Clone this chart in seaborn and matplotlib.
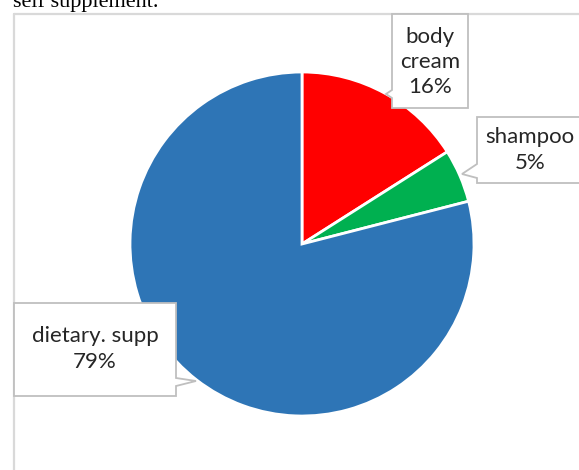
import matplotlib
matplotlib.use("Agg")
import matplotlib.pyplot as plt
import seaborn as sns
from matplotlib.patches import Polygon
from matplotlib.lines import Line2D

sns.set_theme(style="white")
plt.rcParams['font.family'] = ['Lato', 'DejaVu Sans']

categories = ["body\ncream", "shampoo", "dietary. supp"]
values = [16, 5, 79]
colors = ["#FF0000", "#00B050", "#2E75B6"]
title = "self supplement."

W, H = 579, 470
fig = plt.figure(figsize=(W / 100, H / 100), dpi=100)
ax = fig.add_axes([0, 0, 1, 1])

def P(x, y):
    return (x, H - y)

ax.pie(values, colors=colors, startangle=90, counterclock=False,
       center=P(302, 244), radius=172, frame=True,
       wedgeprops=dict(edgecolor="white", linewidth=2))
ax.set_xlim(0, W)
ax.set_ylim(0, H)
ax.set_aspect('equal')
ax.axis('off')

# chart frame
ax.add_line(Line2D([14, 14], [H - 14, 0], color="#D9D9D9", lw=1.6))
ax.add_line(Line2D([14, W], [H - 14, H - 14], color="#D9D9D9", lw=1.6))

total = sum(values)
pct = [f"{round(v * 100 / total)}%" for v in values]

box_style = dict(facecolor="white", edgecolor="#BFBFBF", linewidth=1.3, zorder=5)
txt_style = dict(ha="center", va="center", fontsize=16, color="#262626",
                 linespacing=1.32, zorder=6)

# body cream callout
pts = [P(392, 14), P(468, 14), P(468, 108), P(392, 108), P(392, 98), P(386, 94), P(392, 90)]
ax.add_patch(Polygon(pts, closed=True, **box_style))
ax.text(*P(430, 62), f"{categories[0]}\n{pct[0]}", **txt_style)

# shampoo callout
pts = [P(477, 117), P(590, 117), P(590, 183), P(477, 183), P(477, 178), P(462, 174), P(477, 164)]
ax.add_patch(Polygon(pts, closed=True, **box_style))
ax.text(*P(530, 150), f"{categories[1]}\n{pct[1]}", **txt_style)

# dietary callout
pts = [P(14, 303), P(176, 303), P(176, 378), P(196, 381), P(176, 386), P(176, 396), P(14, 396)]
ax.add_patch(Polygon(pts, closed=True, **box_style))
ax.text(*P(95, 349), f"{categories[2]}\n{pct[2]}", **txt_style)

# clipped title at the top (cut off in the reference as well)
ax.text(*P(13, 7), title, ha="left", va="baseline", fontsize=16,
        family="Liberation Serif", color="black")

fig.savefig("out.png", dpi=100)
